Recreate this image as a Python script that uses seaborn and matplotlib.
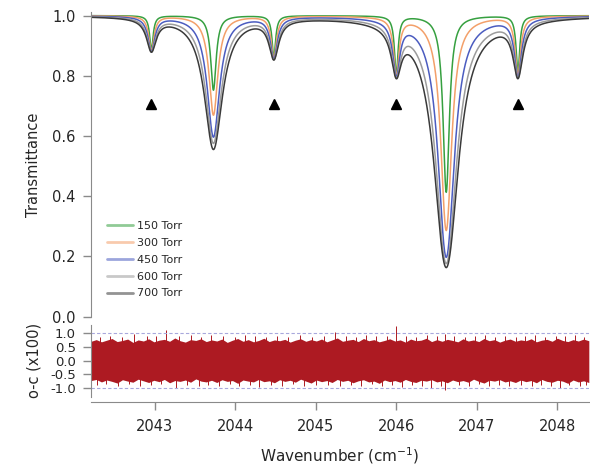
import numpy as np
import pandas as pd
import matplotlib
matplotlib.use("Agg")
import matplotlib.pyplot as plt
import seaborn as sns

# ---------------- data ----------------
pressures = ["150 Torr", "300 Torr", "450 Torr", "600 Torr", "700 Torr"]
line_centers = [2042.96, 2043.73, 2044.48, 2046.00, 2046.62, 2047.51]
line_strong = [False, True, False, False, True, False]
# minimum transmittance at each line centre, one row per pressure
tmin_150 = [0.885, 0.752, 0.860, 0.800, 0.413, 0.810]
tmin_300 = [0.882, 0.669, 0.857, 0.797, 0.286, 0.800]
tmin_450 = [0.880, 0.596, 0.855, 0.795, 0.197, 0.795]
tmin_600 = [0.879, 0.575, 0.853, 0.792, 0.176, 0.792]
tmin_700 = [0.878, 0.555, 0.852, 0.790, 0.163, 0.790]
# half widths (cm-1) per pressure for strong / weak lines
hwhm_strong = [0.038, 0.060, 0.082, 0.103, 0.118]
hwhm_weak = [0.025, 0.038, 0.050, 0.062, 0.070]
marker_x = [2042.96, 2044.48, 2046.00, 2047.51]
marker_y = [0.705, 0.705, 0.705, 0.705]

# residual (o-c x100): ragged band envelope and spikes
env_upper = [0.70, 0.76, 0.68, 0.74, 0.80, 0.69, 0.73, 0.78, 0.66, 0.75, 0.71, 0.79,
             0.68, 0.74, 0.77, 0.70, 0.82, 0.72, 0.67, 0.76, 0.73, 0.79, 0.69, 0.75,
             0.71, 0.78, 0.66, 0.74, 0.80, 0.70, 0.76, 0.68, 0.73, 0.81, 0.69, 0.75,
             0.72, 0.77, 0.67, 0.74, 0.79, 0.70, 0.76, 0.71, 0.78, 0.68, 0.75, 0.82,
             0.70, 0.74, 0.77, 0.69, 0.80, 0.72, 0.76, 0.68, 0.73, 0.79, 0.71, 0.75,
             0.67, 0.78, 0.72, 0.74, 0.81, 0.69, 0.76, 0.70, 0.77, 0.73, 0.68, 0.79,
             0.71, 0.75, 0.69, 0.80, 0.72, 0.76, 0.67, 0.74, 0.78, 0.70, 0.75, 0.72,
             0.79, 0.68, 0.74, 0.77, 0.70, 0.81, 0.73, 0.69, 0.76, 0.71, 0.78, 0.72]
env_lower = [-0.72, -0.68, -0.77, -0.70, -0.75, -0.81, -0.69, -0.74, -0.78, -0.67, -0.73, -0.79,
             -0.71, -0.76, -0.68, -0.80, -0.72, -0.75, -0.70, -0.78, -0.66, -0.74, -0.77, -0.71,
             -0.79, -0.69, -0.75, -0.72, -0.82, -0.70, -0.74, -0.77, -0.68, -0.76, -0.73, -0.80,
             -0.69, -0.75, -0.71, -0.78, -0.67, -0.74, -0.81, -0.70, -0.76, -0.72, -0.79, -0.68,
             -0.75, -0.71, -0.80, -0.73, -0.69, -0.77, -0.74, -0.82, -0.70, -0.76, -0.72, -0.78,
             -0.68, -0.75, -0.79, -0.71, -0.74, -0.69, -0.77, -0.73, -0.80, -0.70, -0.76, -0.72,
             -0.78, -0.67, -0.75, -0.81, -0.71, -0.74, -0.69, -0.77, -0.73, -0.79, -0.70, -0.76,
             -0.72, -0.80, -0.68, -0.75, -0.78, -0.71, -0.74, -0.82, -0.70, -0.77, -0.73, -0.79]
spike_up_x = [2042.32, 2042.45, 2042.60, 2042.75, 2042.90, 2043.02, 2043.14, 2043.30, 2043.45,
              2043.58, 2043.70, 2043.85, 2044.00, 2044.12, 2044.25, 2044.38, 2044.52, 2044.65,
              2044.80, 2044.95, 2045.10, 2045.24, 2045.38, 2045.50, 2045.62, 2045.75, 2045.88,
              2046.00, 2046.12, 2046.25, 2046.38, 2046.50, 2046.60, 2046.72, 2046.85, 2046.98,
              2047.10, 2047.22, 2047.35, 2047.48, 2047.60, 2047.72, 2047.85, 2047.98, 2048.10,
              2048.22, 2048.33]
spike_up_y = [0.84, 0.88, 0.86, 0.97, 0.88, 0.90, 1.10, 0.88, 0.92, 0.87, 0.94, 0.89, 0.86, 0.92,
              0.88, 0.85, 0.90, 0.86, 0.92, 0.87, 0.89, 1.05, 0.88, 0.86, 0.92, 0.88, 0.90, 1.25,
              0.88, 0.86, 0.92, 0.88, 0.96, 0.90, 0.86, 0.88, 0.92, 0.87, 0.90, 0.86, 0.88, 0.92,
              0.87, 0.90, 0.88, 0.92, 0.87]
spike_dn_x = [2042.28, 2042.40, 2042.55, 2042.68, 2042.82, 2042.95, 2043.08, 2043.27, 2043.40,
              2043.55, 2043.66, 2043.80, 2043.93, 2044.05, 2044.18, 2044.30, 2044.45, 2044.58,
              2044.72, 2044.86, 2045.00, 2045.15, 2045.30, 2045.44, 2045.56, 2045.70, 2045.82,
              2045.95, 2046.07, 2046.20, 2046.32, 2046.43, 2046.55, 2046.61, 2046.78, 2046.90,
              2047.03, 2047.15, 2047.28, 2047.40, 2047.55, 2047.68, 2047.80, 2047.92, 2048.03,
              2048.15, 2048.28, 2048.36]
spike_dn_y = [-0.88, -0.85, -0.90, -0.86, -0.92, -0.88, -0.86, -1.00, -0.88, -0.92, -0.87, -0.90,
              -0.86, -0.92, -0.88, -0.96, -0.87, -0.90, -0.86, -0.92, -0.88, -0.87, -0.92, -0.88,
              -0.90, -0.86, -0.92, -0.88, -0.95, -0.87, -0.90, -1.00, -0.92, -1.05, -0.88, -0.90,
              -0.86, -0.92, -0.88, -0.93, -0.87, -0.90, -0.88, -0.92, -1.00, -0.88, -0.93, -0.87]

x_ticks = [2043, 2044, 2045, 2046, 2047, 2048]
top_yticks = [0.0, 0.2, 0.4, 0.6, 0.8, 1.0]
res_yticks = [-1.0, -0.5, 0.0, 0.5, 1.0]

colors = ["#36a040", "#f3a06a", "#4b5cc0", "#9c9c9c", "#3a3a3a"]
res_color = "#ad1a22"
xmin, xmax = 2042.21, 2048.39

# ---------------- build spectra (Lorentzian lines matched to read minima) ----------------
tmins = [tmin_150, tmin_300, tmin_450, tmin_600, tmin_700]
c = np.array(line_centers)
xs = np.linspace(xmin, xmax, 3000)
frames = []
for k, p in enumerate(pressures):
    g = np.array([hwhm_strong[k] if s else hwhm_weak[k] for s in line_strong])
    M = 1.0 / (1.0 + ((c[:, None] - c[None, :]) / g[None, :]) ** 2)
    a = np.linalg.solve(M, -np.log(np.array(tmins[k])))
    A = (a[None, :] / (1.0 + ((xs[:, None] - c[None, :]) / g[None, :]) ** 2)).sum(axis=1)
    frames.append(pd.DataFrame({"x": xs, "T": np.exp(-A), "p": p}))
df = pd.concat(frames, ignore_index=True)

# ---------------- figure ----------------
sns.set_style("ticks")
plt.rcParams["font.family"] = ["DejaVu Sans"]
fig = plt.figure(figsize=(5.9, 4.66), dpi=100)
W, H = 590.0, 466.0
left = 91 / W
right = 0.998
ax = fig.add_axes([left, 1 - 316.7 / H, right - left, (316.7 - 12.5) / H])
axr = fig.add_axes([left, 1 - 396.6 / H, right - left, (396.6 - 324.7) / H])

sns.lineplot(data=df, x="x", y="T", hue="p", palette=colors, hue_order=pressures,
             ax=ax, linewidth=1.1, legend=True, estimator=None, sort=False)
ax.plot(marker_x, marker_y, linestyle="none", marker="^", color="black", markersize=7)
ax.set_xlim(xmin, xmax)
ax.set_ylim(0, 1.01)
ax.set_yticks(top_yticks)
ax.set_yticklabels([f"{v:.1f}" for v in top_yticks])
ax.set_xticks([])
ax.set_xlabel("")
ax.set_ylabel("Transmittance", fontsize=10.5, labelpad=8)
for s in ["top", "right", "bottom"]:
    ax.spines[s].set_visible(False)
ax.spines["left"].set_color("#8a8a8a")
ax.tick_params(axis="y", labelsize=10.5, length=6, width=1, color="#8a8a8a", pad=5)

leg = ax.legend(loc="upper left", bbox_to_anchor=(0.032, 0.315), frameon=False, fontsize=8,
                handlelength=2.35, handletextpad=0.4, labelspacing=0.62, borderpad=0,
                borderaxespad=0)
for h in leg.get_lines():
    h.set_linewidth(2)
    h.set_alpha(0.55)

# residuals
env_x = np.linspace(xmin, xmax, len(env_upper))
axr.fill_between(env_x, env_lower, env_upper, color=res_color, linewidth=0)
axr.vlines(spike_up_x, 0, spike_up_y, color=res_color, linewidth=0.7)
axr.vlines(spike_dn_x, spike_dn_y, 0, color=res_color, linewidth=0.7)
axr.axhline(1.0, color="#a8a8dc", linestyle=(0, (3, 2)), linewidth=0.8)
axr.axhline(-1.0, color="#a8a8dc", linestyle=(0, (3, 2)), linewidth=0.8)
axr.set_xlim(xmin, xmax)
axr.set_ylim(-1.3, 1.3)
axr.set_yticks(res_yticks)
axr.set_yticklabels([f"{v:.1f}" for v in res_yticks])
axr.set_xticks(x_ticks)
axr.set_xticklabels([str(v) for v in x_ticks])
axr.set_ylabel("o-c (x100)", fontsize=10.5, labelpad=6)
axr.set_xlabel("Wavenumber (cm$^{-1}$)", fontsize=11, labelpad=8)
for s in ["top", "right"]:
    axr.spines[s].set_visible(False)
axr.spines["left"].set_color("#8a8a8a")
axr.spines["bottom"].set_color("#8a8a8a")
axr.spines["bottom"].set_position(("outward", 4))
axr.tick_params(axis="x", labelsize=10.5, length=6, width=1, color="#8a8a8a", pad=6)
axr.tick_params(axis="y", labelsize=9.5, length=6, width=1, color="#8a8a8a", pad=5)

fig.savefig("out.png", dpi=100)
